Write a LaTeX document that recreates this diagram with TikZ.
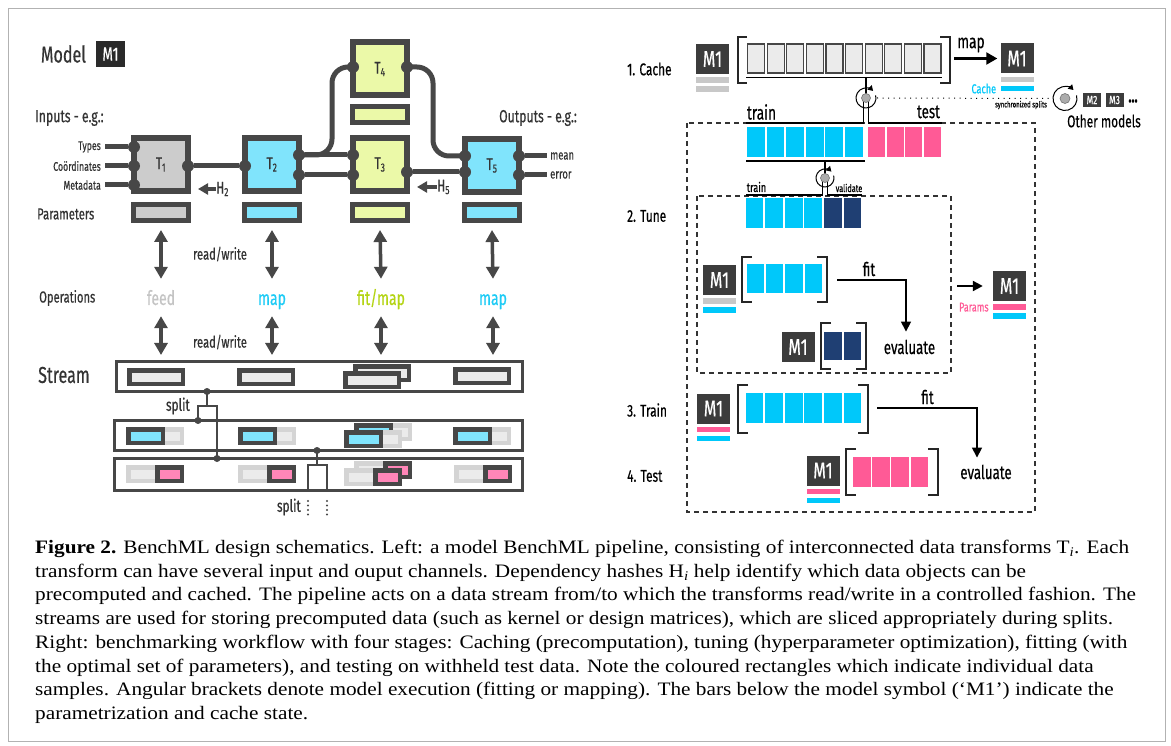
\documentclass[tikz,border=0pt]{standalone}
\usepackage{fontspec}
\setmainfont{Liberation Serif}
\newfontfamily\osw[FakeStretch=0.7, FakeBold=0.5]{Fira Sans}
\newfontfamily\capf[FakeStretch=1.12]{Liberation Serif}
\usetikzlibrary{arrows.meta,positioning,calc}

\definecolor{dgray}{HTML}{474747}
\definecolor{ltext}{HTML}{333333}
\definecolor{tgray}{HTML}{CCCCCC}
\definecolor{tcyan}{HTML}{80E4FC}
\definecolor{tlime}{HTML}{EBF9A8}
\definecolor{opgray}{HTML}{C4C4C4}
\definecolor{opcyan}{HTML}{1ECBF5}
\definecolor{oplime}{HTML}{B4D414}
\definecolor{lgray}{HTML}{EBEBEB}
\definecolor{fgray}{HTML}{D4D4D4}
\definecolor{spink}{HTML}{FF86B8}
\definecolor{ccyan}{HTML}{00C8FA}
\definecolor{cpink}{HTML}{FF5A96}
\definecolor{cnavy}{HTML}{1F3F73}
\definecolor{mdark}{HTML}{3C3C3C}
\definecolor{hdark}{HTML}{2A2A2A}
\definecolor{bargray}{HTML}{C8C8C8}

\newcommand{\fsz}[1]{\fontsize{#1}{#1}\selectfont}

\tikzset{
  lbl/.style={text=ltext, inner sep=0pt, font=\osw\fsz{16}},
  inl/.style={lbl, anchor=east, font=\osw\fsz{12.5}},
  tbox/.style={draw=dgray, line width=6pt, minimum width=54pt, minimum height=53pt, inner sep=0pt, text=ltext, font=\osw\fsz{17}},
  parbox/.style={draw=dgray, line width=5pt, minimum width=55pt, minimum height=16pt, inner sep=0pt},
  port/.style={circle, fill=dgray, minimum size=12pt, inner sep=0pt},
  wire/.style={draw=dgray, line width=5pt},
  rw/.style={draw=dgray, line width=3.5pt, {Triangle[width=13pt,length=12pt]}-{Triangle[width=13pt,length=12pt]}},
  harr/.style={draw=dgray, line width=3.5pt, -{Triangle[width=11pt,length=10pt]}},
  opl/.style={inner sep=0pt, text height=11pt, text depth=3pt, font=\osw\fsz{20}},
  strm/.style={draw=dgray, line width=3pt, inner sep=0pt},
  sitem/.style={draw=dgray, line width=4.5pt, fill=lgray},
  fitem/.style={draw=fgray, line width=4.5pt, fill=lgray},
  citem/.style={sitem, fill=tcyan},
  pitem/.style={sitem, fill=spink},
  splitl/.style={draw=dgray, line width=1.3pt},
  sdot/.style={circle, fill=dgray, minimum size=7pt, inner sep=0pt},
  dotl/.style={draw=dgray, line width=2.2pt, line cap=round, dash pattern=on 0pt off 4.5pt},
  mbox/.style={fill=mdark, text=white, minimum width=33pt, minimum height=30pt, inner sep=0pt, font=\osw\fsz{23}},
  bar/.style={minimum width=33pt, minimum height=5.5pt, inner sep=0pt},
  rtxt/.style={text=black, inner sep=0pt, font=\osw\fsz{17}},
  ccell/.style={draw=dgray, line width=1.2pt, fill=lgray},
  brk/.style={draw=black!85, line width=1.8pt},
  dbox/.style={draw=black!80, line width=1.2pt, dash pattern=on 5pt off 4pt},
  thinl/.style={draw=black, line width=1.4pt},
  flow/.style={draw=black, line width=1.6pt, -{Triangle[width=10pt,length=10pt]}},
  spdot/.style={circle, fill=gray!65, draw=gray!90!black, line width=0.6pt, inner sep=0pt, minimum size=9pt},
  rot/.style={draw=black, line width=1pt, -{Triangle[width=6pt,length=5pt]}},
}

\begin{document}
\begin{tikzpicture}[x=1pt,y=-1pt]
\useasboundingbox (0,0) rectangle (1171,746);
\draw[black!30, line width=0.8pt] (8.5,8.5) rectangle (1165,741);

% ---------- left: pipeline ----------
\node[lbl, font=\osw\fsz{23}] (lmodel) at (63.5,54) {Model};
\node[mbox, fill=hdark, minimum width=29pt, minimum height=26pt, font=\osw\fsz{19}] (mhead) at (110.5,54) {M1};

\node[lbl, anchor=west, font=\osw\fsz{17.5}] (lin) at (35,118) {Inputs - e.g.:};
\node[lbl, anchor=west, font=\osw\fsz{17.5}] (lout) at (499,118) {Outputs - e.g.:};

\node[tbox, fill=tgray] (t1) at (161,164.5) {T\textsubscript{1}};
\node[tbox, fill=tcyan] (t2) at (272,164.5) {T\textsubscript{2}};
\node[tbox, fill=tlime] (t3) at (380,164.5) {T\textsubscript{3}};
\node[tbox, fill=tlime] (t4) at (380,69) {T\textsubscript{4}};
\node[tbox, fill=tcyan] (t5) at (492,165.5) {T\textsubscript{5}};

\node[port] (t1a) at (134,147) {};
\node[port] (t1b) at (134,166) {};
\node[port] (t1c) at (134,185) {};
\node[port] (t1o) at (188,166) {};
\node[port] (t2i) at (245,166) {};
\node[port] (t2o1) at (299,155) {};
\node[port] (t2o2) at (299,175) {};
\node[port] (t3i1) at (353,155) {};
\node[port] (t3i2) at (353,175) {};
\node[port] (t3o) at (407,172) {};
\node[port] (t4i) at (353,67) {};
\node[port] (t4o) at (407,67) {};
\node[port] (t5i1) at (465,156) {};
\node[port] (t5i2) at (465,172) {};
\node[port] (t5o1) at (519,156) {};
\node[port] (t5o2) at (519,175) {};

\node[inl] (lty) at (101,147) {Types};
\node[inl] (lco) at (101,166) {Coördinates};
\node[inl] (lme) at (101,185) {Metadata};
\node[lbl, anchor=west, font=\osw\fsz{13.5}] (lmean) at (550,156) {mean};
\node[lbl, anchor=west, font=\osw\fsz{13.5}] (lerr) at (550,175) {error};

\draw[wire, shorten >=4pt] (t1a) -- (t1a -| lty.east);
\draw[wire, shorten >=4pt] (t1b) -- (t1b -| lco.east);
\draw[wire, shorten >=4pt] (t1c) -- (t1c -| lme.east);
\draw[wire] (t1o) -- (t2i);
\draw[wire] (t2o1) -- (t3i1);
\draw[wire] (t2o2) -- (t3i2);
\draw[wire] (t3o) -- (t5i2);
\draw[wire, rounded corners=16pt] (t2o1.center) -- (332,155) -- (332,67) -- (t4i.center);
\draw[wire, rounded corners=16pt] (t4o.center) -- (433,67) -- (433,156) -- (t5i1.center);
\draw[wire, shorten >=3pt] (t5o1) -- (t5o1 -| lmean.west);
\draw[wire, shorten >=3pt] (t5o2) -- (t5o2 -| lerr.west);

\node[lbl, anchor=west, font=\osw\fsz{17}] (h2) at (216,189) {H\textsubscript{2}};
\node[lbl, anchor=west, font=\osw\fsz{17}] (h5) at (437,187) {H\textsubscript{5}};
\draw[harr] (h2.west) -- ++(-18,0);
\draw[harr] (h5.west) -- ++(-20,0);

\node[lbl, anchor=west] (lpar) at (37,214) {Parameters};
\node[parbox, fill=tgray] (p1) at (161,212.5) {};
\node[parbox, fill=tcyan] (p2) at (272,212.5) {};
\node[parbox, fill=tlime] (p3) at (380,212.5) {};
\node[parbox, fill=tlime] (p4) at (380,114.5) {};
\node[parbox, fill=tcyan] (p5) at (492,212.5) {};

\node[lbl, anchor=west] (lops) at (39,298) {Operations};
\node[opl, text=opgray] (op1) at (161,301) {feed};
\node[opl, text=opcyan] (op2) at (272,301) {map};
\node[opl, text=oplime] (op3) at (381,301) {fit/map};
\node[opl, text=opcyan] (op5) at (493,301) {map};
\node[lbl] (lrw1) at (220,254) {read/write};
\node[lbl] (lrw2) at (220,342) {read/write};

% stream boxes
\node[lbl, anchor=west, font=\osw\fsz{23}] (lstrm) at (38,375) {Stream};
\node[strm, minimum width=406pt, minimum height=30pt] (strm1) at (319.5,376.5) {};
\node[strm, minimum width=408pt, minimum height=30pt] (strm2) at (318.5,435.5) {};
\node[strm, minimum width=408pt, minimum height=32pt] (strm3) at (318.5,474.5) {};

\foreach \p/\o in {p1/op1, p2/op2, p3/op3, p5/op5} {
  \draw[rw] ([yshift=-7pt]\p.south) -- ([yshift=15pt]\o.north);
  \draw[rw] ([yshift=-8pt]\o.south) -- ($(\o.south |- strm1.north)+(0,-5)$);
}

\foreach \x/\y in {127/368, 237/368, 453/367, 353/364, 343/371}
  \draw[sitem] (\x+2.25,\y+2.25) rectangle (\x+55.75,\y+15.75);
\foreach \x/\y in {126/427, 238/427, 354/423, 344/430, 453/427} {
  \draw[fitem] (\x+2.25,\y+2.25) rectangle (\x+55.75,\y+15.75);
  \draw[citem] (\x+2.25,\y+2.25) rectangle (\x+36.75,\y+15.75);
}
\foreach \x/\y in {126/465, 238/465, 354/461, 344/468, 454/465} {
  \draw[fitem] (\x+2.25,\y+2.25) rectangle (\x+55.75,\y+15.75);
  \draw[pitem] (\x+31.25,\y+2.25) rectangle (\x+55.75,\y+15.75);
}

% splits
\node[sdot] (s1a) at (207,391.5) {};
\node[sdot] (s1b) at (198,420.5) {};
\node[sdot] (s1c) at (217,458.5) {};
\draw[splitl] (s1a.center) -- (207,406);
\draw[splitl] (s1b.center) -- (198,406) -- (217,406) -- (s1c.center);
\node[lbl, anchor=east, font=\osw\fsz{17}] (lsp1) at (190,406) {split};

\node[sdot] (s2a) at (317,450.5) {};
\draw[splitl] (s2a.center) -- (317,465);
\draw[splitl] (308,491) -- (308,465) -- (327,465) -- (327,491);
\draw[dotl] (308,501) -- (308,517);
\draw[dotl] (327,501) -- (327,517);
\node[lbl, anchor=east, font=\osw\fsz{17}] (lsp2) at (301,507) {split};

% ---------- right: workflow ----------
\draw[dbox] (687,123) rectangle (1035,512);
\draw[dbox] (697,196) rectangle (951,373);

% 1. cache
\node[rtxt, anchor=west] (lcache) at (627,69) {1. Cache};
\node[mbox] (mc1) at (712.5,59) {M1};
\node[bar, fill=bargray, below=3pt of mc1] (mc1a) {};
\node[bar, fill=bargray, below=3pt of mc1a] (mc1b) {};
\draw[brk] (747,37) -- (738,37) -- (738,83) -- (747,83);
\draw[brk] (940,37) -- (950,37) -- (950,83) -- (940,83);
\foreach \i in {0,...,9}
  \draw[ccell] ({747.5+19.6*\i},44) rectangle ++(17,29);
\coordinate (cl) at (746,77.5);
\coordinate (cr) at (942,77.5);
\draw[thinl, line width=1.8pt] (cl) -- (cr);

\coordinate (sp1) at (866,98);
\draw[thinl, line width=1.8pt] (sp1 |- cl) -- (sp1);
\coordinate (trl) at (746,123);
\coordinate (tsr) at (942,123);
\draw[thinl] ([xshift=-2.5pt]sp1) |- (trl);
\draw[thinl] ([xshift=2.5pt]sp1) |- (tsr);
\node[spdot] (sp1d) at (sp1) {};
\draw[rot] (sp1) ++(-15:10) arc (-15:315:10);

\node[mbox] (mc2) at (1017,58.5) {M1};
\node[bar, fill=bargray, below=3pt of mc2] (mc2a) {};
\node[bar, fill=ccyan, below=3pt of mc2a] (mc2b) {};
\node[rtxt, text=ccyan, font=\osw\fsz{13}, left=4pt of mc2b] (lcc) {Cache};
\coordinate (mapS) at (954,58.5);
\draw[flow, line width=2.2pt, -{Triangle[width=12pt,length=11pt]}] (mapS) -- ([xshift=-3pt]mc2.west);
\node[rtxt, font=\osw\fsz{19.6}] (lmap) at (971,45) {map};

\coordinate (om) at (1065,98.5);
\coordinate (syncE) at (1049,98.5);
\draw[black, line width=1pt, dash pattern=on 1.2pt off 4.3pt] ([xshift=11pt]sp1) -- (syncE);
\node[rtxt, font=\osw\fsz{8.5}] (lsync) at (1021,105) {synchronized splits};
\node[spdot, minimum size=10pt] (omd) at (om) {};
\draw[rot] (om) ++(-15:12) arc (-15:315:12);
\node[mbox, minimum width=18pt, minimum height=14pt, font=\osw\fsz{12}] (mm2) at (1092,100) {M2};
\node[mbox, minimum width=18pt, minimum height=14pt, font=\osw\fsz{12}] (mm3) at (1114.5,100) {M3};
\node[rtxt, font=\osw\bfseries\fsz{18}] (mdots) at (1133,101) {...};
\node[rtxt] (lother) at (1104,121) {Other models};

\node[rtxt, font=\osw\fsz{19.6}] (ltrain) at (761.5,112) {train};
\node[rtxt, font=\osw\fsz{19}] (ltest) at (928.5,112) {test};
\foreach \i in {0,...,5}
  \fill[ccyan] ({747+19.6*\i},127) rectangle ++(17.8,30);
\foreach \i in {0,...,3}
  \fill[cpink] ({868+18.6*\i},127) rectangle ++(17,30);

% 2. tune
\coordinate (tul) at (746,161);
\coordinate (tur) at (865,161);
\draw[thinl, line width=1.8pt] (tul) -- (tur);
\coordinate (sp2) at (825,178);
\coordinate (vl) at (746,195);
\coordinate (vr) at (862,195);
\draw[thinl, line width=1.8pt] (sp2 |- tul) -- (sp2);
\draw[thinl] ([xshift=-2.5pt]sp2) |- (vl);
\draw[thinl] ([xshift=2.5pt]sp2) |- (vr);
\node[spdot] (sp2d) at (sp2) {};
\draw[rot] (sp2) ++(-15:9) arc (-15:315:9);
\node[rtxt, font=\osw\fsz{13}] (ltrain2) at (756.5,187) {train};
\node[rtxt, font=\osw\fsz{10.5}] (lval) at (849,188) {validate};

\node[rtxt, anchor=west] (ltune) at (627,216) {2. Tune};
\foreach \i in {0,...,3}
  \fill[ccyan] ({745.5+19.6*\i},198) rectangle ++(17.8,30);
\foreach \i in {4,5}
  \fill[cnavy] ({745.5+19.6*\i},198) rectangle ++(17.8,30);

\node[mbox] (mt1) at (719.5,280) {M1};
\node[bar, fill=bargray, below=3pt of mt1] (mt1a) {};
\node[bar, fill=ccyan, below=3pt of mt1a] (mt1b) {};
\draw[brk] (752,257) -- (742,257) -- (742,302) -- (752,302);
\draw[brk] (817,257) -- (827,257) -- (827,302) -- (817,302);
\foreach \i in {0,...,3}
  \fill[ccyan] ({746.5+19.4*\i},264) rectangle ++(17.5,29);
\node[rtxt, font=\osw\fsz{19}] (lfit1) at (869,269) {fit};
\node[rtxt, font=\osw\fsz{19}] (lev1) at (909.5,347) {evaluate};
\coordinate (fit1) at (837,280);
\draw[flow] (fit1) -| ($(lev1.north)+(-3.5,-8)$);

\node[mbox] (mt2) at (798,347) {M1};
\draw[brk] (831,323) -- (821,323) -- (821,369) -- (831,369);
\draw[brk] (856,323) -- (866,323) -- (866,369) -- (856,369);
\foreach \i in {0,1}
  \fill[cnavy] ({824+19.5*\i},332) rectangle ++(17.5,28);

\node[mbox] (mt3) at (1009.5,286) {M1};
\node[bar, fill=cpink, below=3pt of mt3] (mt3a) {};
\node[bar, fill=ccyan, below=3pt of mt3a] (mt3b) {};
\node[rtxt, text=cpink, font=\osw\fsz{12.8}, left=4pt of mt3a] (lparams) {Params};
\coordinate (parS) at (957,286);
\draw[flow, line width=2.2pt] (parS) -- ([xshift=-10pt]mt3.west);

% 3. train
\node[rtxt, anchor=west] (ltr) at (627,410) {3. Train};
\node[mbox] (mtr) at (713.5,408.5) {M1};
\node[bar, fill=cpink, below=3pt of mtr] (mtra) {};
\node[bar, fill=ccyan, below=3pt of mtra] (mtrb) {};
\draw[brk] (748,385) -- (738,385) -- (738,433) -- (748,433);
\draw[brk] (858,385) -- (868,385) -- (868,433) -- (858,433);
\foreach \i in {0,...,5}
  \fill[ccyan] ({745.5+19.6*\i},393) rectangle ++(17.8,30);
\node[rtxt, font=\osw\fsz{19}] (lfit2) at (927.5,397) {fit};
\node[rtxt, font=\osw\fsz{19}] (lev2) at (986,472) {evaluate};
\coordinate (fit2) at (877,408);
\draw[flow] (fit2) -| ($(lev2.north)+(-9,-7)$);

% 4. test
\node[rtxt, anchor=west] (lte) at (627,476) {4. Test};
\node[mbox] (mte) at (823,470.5) {M1};
\node[bar, fill=cpink, below=3pt of mte] (mtea) {};
\node[bar, fill=ccyan, below=3pt of mtea] (mteb) {};
\draw[brk] (856,449) -- (846,449) -- (846,495) -- (856,495);
\draw[brk] (928,449) -- (938,449) -- (938,495) -- (928,495);
\foreach \i in {0,...,3}
  \fill[cpink] ({853+19.2*\i},457) rectangle ++(17.5,30);

% caption
\node[anchor=north west, inner sep=0pt, align=left, font=\capf\fontsize{19}{23.7}\selectfont] (cap) at (35,540) {%
\textbf{Figure 2.} BenchML design schematics. Left: a model BenchML pipeline, consisting of interconnected data transforms T\textsubscript{\textit{i}}. Each\\
transform can have several input and ouput channels. Dependency hashes H\textsubscript{\textit{i}} help identify which data objects can be\\
precomputed and cached. The pipeline acts on a data stream from/to which the transforms read/write in a controlled fashion. The\\
streams are used for storing precomputed data (such as kernel or design matrices), which are sliced appropriately during splits.\\
Right: benchmarking workflow with four stages: Caching (precomputation), tuning (hyperparameter optimization), fitting (with\\
the optimal set of parameters), and testing on withheld test data. Note the coloured rectangles which indicate individual data\\
samples. Angular brackets denote model execution (fitting or mapping). The bars below the model symbol (‘M1’) indicate the\\
parametrization and cache state.};
\end{tikzpicture}
\end{document}
